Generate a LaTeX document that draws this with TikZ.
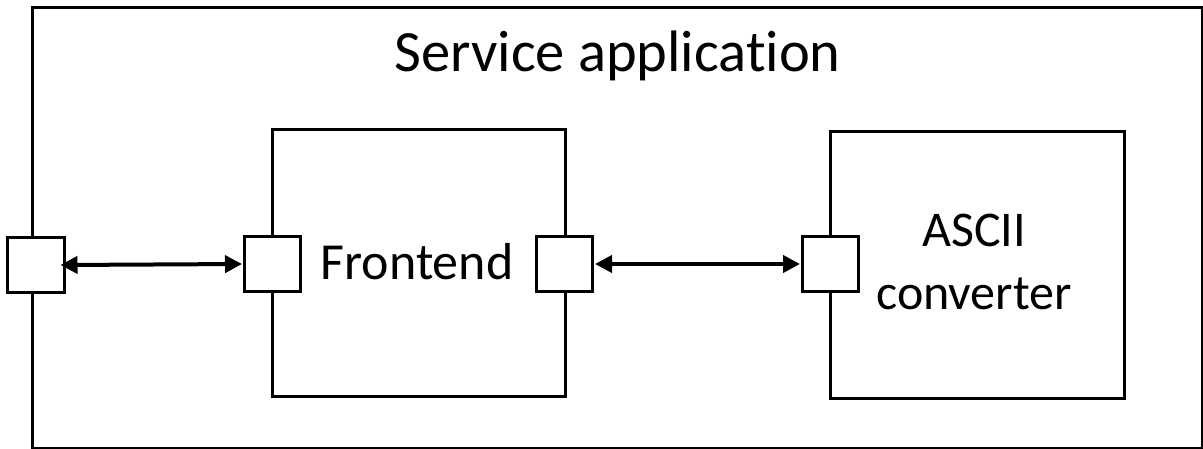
\documentclass[tikz,border=0pt]{standalone}
\usepackage{fontspec}
\setmainfont{Carlito}[Ligatures={NoCommon}]
\usetikzlibrary{arrows.meta}
\begin{document}
\begin{tikzpicture}[x=1bp,y=-1bp,
  box/.style={draw=black, line width=3bp, fill=white, inner sep=0pt, rectangle},
  port/.style={box, minimum width=56bp, minimum height=55bp},
  lbl/.style={inner sep=0pt, anchor=base, align=center},
  conn/.style={line width=4bp, {Triangle[length=17bp,width=17bp]}-{Triangle[length=17bp,width=17bp]}, shorten >=1bp}]
\useasboundingbox (0,0) rectangle (1203,449);
\node[box, fill=none, minimum width=1169bp, minimum height=440bp] (outer) at (617.5,228) {};
\node[box, minimum width=293bp, minimum height=266bp] (front) at (418.5,263) {};
\node[box, minimum width=294bp, minimum height=266bp] (ascii) at (977,265) {};
\node[port] (p0) at (36,265) {};
\node[port] (p1) at (272.5,264) {};
\node[port] (p2) at (564.5,264) {};
\node[port] (p3) at (830.5,264) {};
\node[lbl, font=\fontsize{58.5bp}{60bp}\selectfont] (title) at (617.5,72) {Service application};
\node[lbl, font=\fontsize{52bp}{60bp}\selectfont] (flbl) at (417,280) {Frontend};
\node[lbl, font=\fontsize{50bp}{63bp}\selectfont] (albl) at (974,310) {ASCII\\converter};
\draw[conn, shorten <=-5bp] (p0.east) -- (p1.west);
\draw[conn, shorten <=1bp] (p2.east) -- (p3.west);
\end{tikzpicture}
\end{document}
